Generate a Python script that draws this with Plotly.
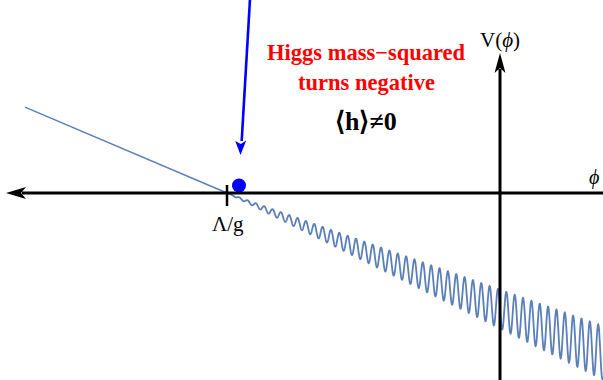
import numpy as np
import plotly.graph_objects as go

# --- potential parameters (plot units: phi to the right, V upward) ---
PHI_RANGE = [-500, 103]        # visible field range
V_RANGE = [-187, 193]          # visible potential range
PHI_START = -475               # left end of the drawn potential
PHI_CUT = -273                 # Λ/g : where the Higgs mass-squared turns negative
SLOPE = -0.425                 # linear rolling term
PERIOD = 8.35                  # period of the back-reaction wiggles
PHI_PEAK = -2.0                # a wiggle maximum (phase reference)
AMP_GAIN = 0.071               # wiggle amplitude grows with distance past Λ/g

BALL_PHI = [-261]
BALL_V = [7.5]

TICK_LABEL = "Λ/g"
CURVE_COLOR = "#5b7fb8"


def potential(phi):
    v = SLOPE * (phi - PHI_CUT)
    past = phi > PHI_CUT
    amp = AMP_GAIN * (phi - PHI_CUT) * past
    return v + amp * np.cos(2 * np.pi * (phi - PHI_PEAK) / PERIOD)


phi_flat = np.array([PHI_START, PHI_CUT])
phi_wig = np.arange(PHI_CUT, PHI_RANGE[1] + 0.2, 0.2)

fig = go.Figure()
fig.add_trace(go.Scatter(x=phi_flat, y=potential(phi_flat), mode="lines",
                         line=dict(color=CURVE_COLOR, width=1.4), hoverinfo="skip"))
fig.add_trace(go.Scatter(x=phi_wig, y=potential(phi_wig), mode="lines",
                         line=dict(color=CURVE_COLOR, width=1.8, simplify=False),
                         hoverinfo="skip"))
fig.add_trace(go.Scatter(x=BALL_PHI, y=BALL_V, mode="markers",
                         marker=dict(color="#0000ff", size=14, line=dict(width=0)),
                         hoverinfo="skip"))

shapes = []
# horizontal (phi) axis with arrow pointing left
shapes.append(dict(type="line", x0=-478, x1=PHI_RANGE[1], y0=0, y1=0,
                   line=dict(color="black", width=3)))
shapes.append(dict(type="path", path="M -494 0 L -474 6 L -479 0 L -474 -6 Z",
                   fillcolor="black", line=dict(width=0)))
# vertical (V) axis with arrow pointing up
shapes.append(dict(type="line", x0=0, x1=0, y0=V_RANGE[0], y1=124,
                   line=dict(color="black", width=3)))
shapes.append(dict(type="path", path="M 0 140 L -5.5 120 L 0 125 L 5.5 120 Z",
                   fillcolor="black", line=dict(width=0)))
# tick at Λ/g
shapes.append(dict(type="line", x0=PHI_CUT, x1=PHI_CUT, y0=-13, y1=8,
                   line=dict(color="black", width=2.5)))
# blue pointer arrow
shapes.append(dict(type="line", x0=-250, x1=-258.3, y0=194, y1=52,
                   line=dict(color="#0000ff", width=2.6)))
shapes.append(dict(type="path",
                   path="M -259.5 38 L -264.8 52 L -259.2 49 L -253.8 52.5 Z",
                   fillcolor="#0000ff", line=dict(width=0)))

serif = "Liberation Serif, Times New Roman, serif"
annotations = [
    dict(x=PHI_CUT + 1, y=-31, text=TICK_LABEL, showarrow=False,
         font=dict(family=serif, size=21, color="black")),
    dict(x=0, y=153, text="V(<i>ϕ</i>)", showarrow=False,
         font=dict(family=serif, size=21, color="black")),
    dict(x=94, y=16, text="<i>ϕ</i>", showarrow=False,
         font=dict(family=serif, size=20, color="black")),
    dict(x=-134, y=141, text="<b>Higgs mass−squared</b>", showarrow=False,
         font=dict(family=serif, size=22.5, color="#ff0000")),
    dict(x=-134, y=111, text="<b>turns negative</b>", showarrow=False,
         font=dict(family=serif, size=22.5, color="#ff0000")),
    dict(x=-134, y=72, text="<b>⟨h⟩≠0</b>", showarrow=False,
         font=dict(family=serif, size=26, color="black")),
]

fig.update_layout(
    width=603, height=380,
    margin=dict(l=0, r=0, t=0, b=0),
    paper_bgcolor="white", plot_bgcolor="white",
    showlegend=False,
    shapes=shapes, annotations=annotations,
    xaxis=dict(range=PHI_RANGE, visible=False, fixedrange=True),
    yaxis=dict(range=V_RANGE, visible=False, fixedrange=True),
)

fig.write_html("out.html")
